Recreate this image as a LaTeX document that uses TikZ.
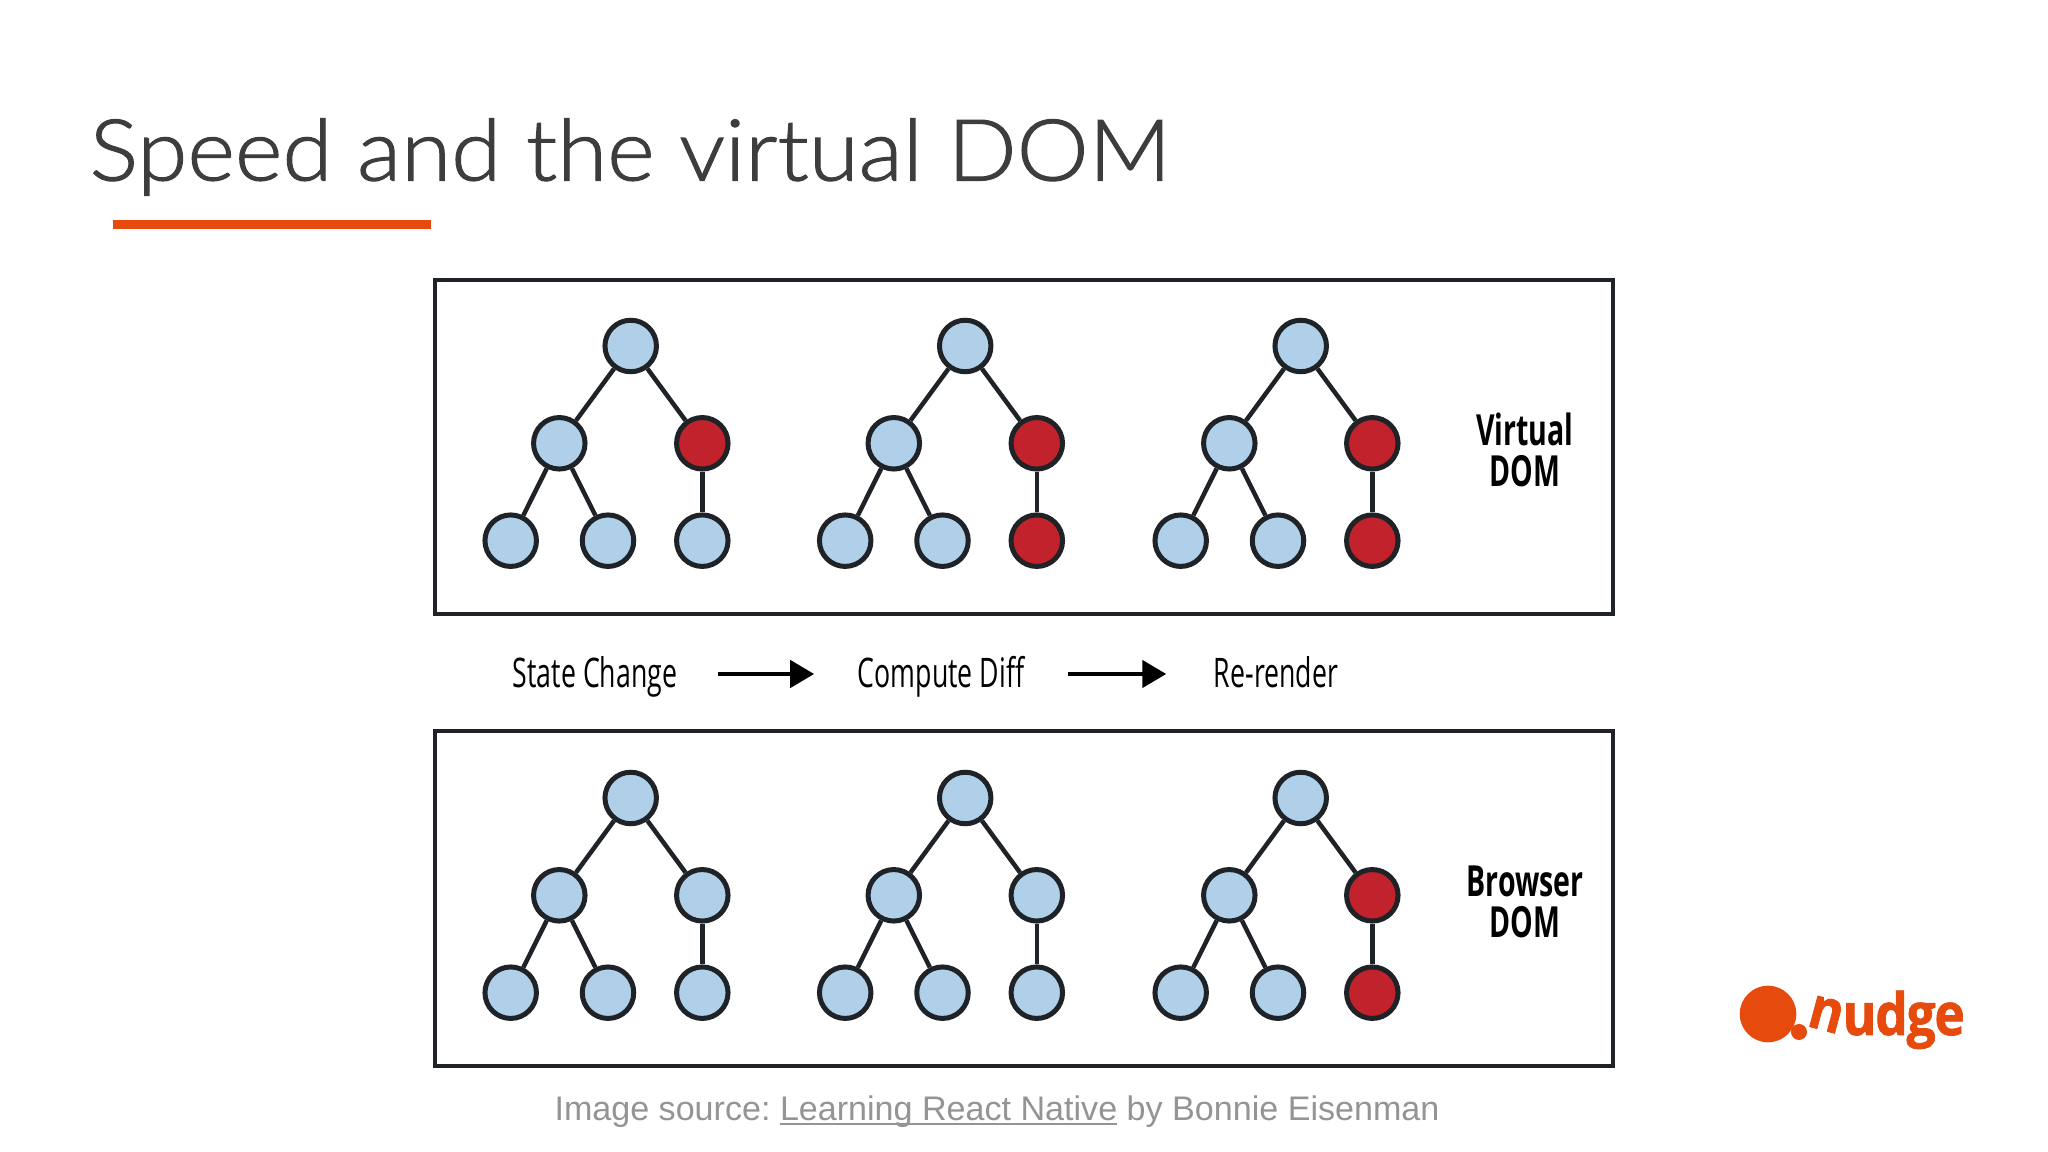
\documentclass[tikz,border=0pt]{standalone}
\usepackage{fontspec}
\setmainfont{Liberation Sans}
\newfontfamily\titlefont[FakeStretch=1.065,FakeBold=1.3]{Lato Light}
\newfontfamily\flowfont[FakeStretch=0.655]{Open Sans}
\newfontfamily\sidefont[FakeStretch=0.665]{Open Sans}
\newfontfamily\logofont[FakeStretch=0.88,FakeBold=1.2,LetterSpace=-2]{Open Sans}
\usetikzlibrary{arrows.meta}
\definecolor{treeblue}{HTML}{AFD0E8}
\definecolor{treered}{HTML}{C1222B}
\definecolor{inkdark}{HTML}{1F2327}
\definecolor{nudgeorange}{HTML}{E64A0C}
\newcommand{\srcline}[1]{\setbox0\hbox{#1}\rlap{\rule[-1.3pt]{\wd0}{.55pt}}\box0\relax}
\tikzset{
  treenode/.style={circle,draw=inkdark,line width=.5mm,minimum size=5.15mm,inner sep=0pt},
  treeedge/.style={draw=inkdark,line width=.45mm},
  framebox/.style={draw=inkdark,line width=.45mm},
  flowlabel/.style={inner ysep=0pt,inner xsep=4.3mm,text height=3.9mm,text depth=1.2mm,font=\flowfont\fontsize{11.6}{14}\selectfont},
  flowarrow/.style={line width=.45mm,-{Triangle[length=2.4mm,width=2.7mm]}},
  sidelabel/.style={align=center,inner sep=0pt,font=\sidefont\bfseries\fontsize{12.2}{11.7}\selectfont},
}
% one tree: name prefix, x, y, fill of right child, fill of its leaf
\newcommand{\domtree}[5]{
  \node[treenode,fill=treeblue] (#1root) at (#2+120.7,#3) {};
  \node[treenode,fill=treeblue] (#1midl) at (#2+49.3,#3+97.3) {};
  \node[treenode,fill=#4] (#1midr) at (#2+192.3,#3+97.3) {};
  \node[treenode,fill=treeblue] (#1lfa) at (#2+0.7,#3+194.7) {};
  \node[treenode,fill=treeblue] (#1lfb) at (#2+98,#3+194.7) {};
  \node[treenode,fill=#5] (#1lfc) at (#2+192.3,#3+194.7) {};
  \draw[treeedge] (#1root) -- (#1midl);
  \draw[treeedge] (#1root) -- (#1midr);
  \draw[treeedge] (#1midl) -- (#1lfa);
  \draw[treeedge] (#1midl) -- (#1lfb);
  \draw[treeedge] (#1midr) -- (#1lfc);
}
\begin{document}
\begin{tikzpicture}[x=.1mm,y=-.1mm]
\useasboundingbox[fill=white] (0,0) rectangle (2048,1152);

% title
\node[anchor=base west,inner sep=0pt,text=black!76] (title) at (89,180.5)
  {\titlefont\fontsize{24.3}{28}\selectfont Speed and the virtual DOM};
\fill[nudgeorange] (113,220) rectangle (431,229);

% frames
\draw[framebox] (435,280) rectangle (1613,614);
\draw[framebox] (435,731) rectangle (1613,1066);

% virtual dom row
\domtree{va}{510}{346}{treered}{treeblue}
\domtree{vb}{844.5}{346}{treered}{treered}
\domtree{vc}{1180}{346}{treered}{treered}
% browser dom row
\domtree{ba}{510}{798}{treeblue}{treeblue}
\domtree{bb}{844.5}{798}{treeblue}{treeblue}
\domtree{bc}{1180}{798}{treered}{treered}

\node[sidelabel] (virtual) at (1525,450) {Virtual\\DOM};
\node[sidelabel] (browser) at (1525,902) {Browser\\DOM};

% flow
\node[flowlabel,inner xsep=4mm] (state) at (595,674) {State Change};
\node[flowlabel] (diff) at (941,674) {Compute Diff};
\node[flowlabel,inner xsep=4.7mm] (render) at (1276,674) {Re-render};
\draw[flowarrow] (state.east) -- (diff.west);
\draw[flowarrow] (diff.east) -- (render.west);

% caption
\node[anchor=base,inner sep=0pt,text=black!42] (source) at (997,1120)
  {\fontsize{9.7}{12}\selectfont Image source:\hspace{-.9pt} \srcline{Learning React Native} by Bonnie Eisenman};

% logo
\fill[nudgeorange] (1768,1014) circle (28.3);
\fill[nudgeorange] (1799,1032) circle (8);
\node[anchor=base,inner sep=0pt,text=nudgeorange,rotate=-15] (logon) at (1822,1030)
  {\logofont\bfseries\fontsize{16.6}{18}\selectfont n};
\node[anchor=base west,inner sep=0pt,text=nudgeorange] (logotext) at (1842,1035)
  {\logofont\bfseries\fontsize{16.6}{18}\selectfont udge};
\end{tikzpicture}
\end{document}
